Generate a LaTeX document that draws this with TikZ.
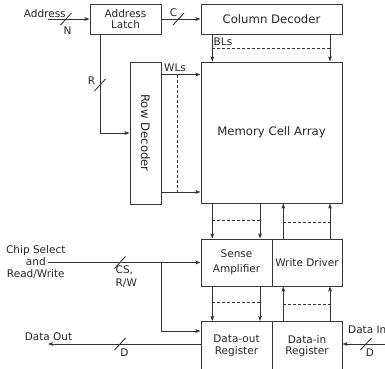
\documentclass[tikz,border=0pt]{standalone}
\usepackage{fontspec}
\usepackage{graphicx}
\setmainfont{DejaVu Sans}
\usetikzlibrary{arrows.meta}

\newcommand{\labfont}{\fontsize{10.5}{11.6}\selectfont}
\newcommand{\headfont}{\fontsize{11.7}{14}\selectfont}
\newcommand{\busslash}[1]{\draw[wire] (#1) ++(-5.5,6) -- ++(11,-12);}

\tikzset{
  blk/.style={draw=black!78, line width=1pt, inner sep=0pt, align=center},
  wire/.style={draw=black!80, line width=0.85pt},
  busdash/.style={draw=black!80, line width=0.8pt, dashed, dash pattern=on 3pt off 2pt},
  lbl/.style={inner sep=0pt, align=center}
}

\begin{document}
\begin{tikzpicture}[x=1pt, y=-1pt, font=\labfont, text=black!85,
  >={Stealth[length=5pt, width=3.6pt, inset=1pt]}]
  \useasboundingbox (0,0) rectangle (385,368);
  \clip (0,0) rectangle (385,368);

  % blocks
  \node[blk, minimum width=71, minimum height=30] (latch) at (125.5,19) {Address\\Latch};
  \node[blk, font=\headfont, minimum width=141, minimum height=30] (coldec) at (271.5,19) {Column Decoder};
  \node[blk, font=\headfont, minimum width=141, minimum height=141] (mca) at (271.5,132.5) {Memory Cell Array};
  \node[blk, font=\headfont, minimum width=31, minimum height=142] (rowdec) at (145.5,133) {\rotatebox{-90}{Row Decoder}};
  \node[blk, minimum width=71, minimum height=47] (sense) at (236.5,262.5) {Sense\\[3.4pt]Amplifier};
  \node[blk, minimum width=70, minimum height=47] (wdrv) at (307,262.5) {Write Driver};
  \node[blk, minimum width=71, minimum height=49] (dout) at (236.5,346) {Data-out\\Register};
  \node[blk, minimum width=70, minimum height=49] (din) at (307,346) {Data-in\\Register};

  % helper coordinates
  \coordinate (addr) at (48,19);
  \coordinate (rtap) at (100,0);
  \coordinate (wl1) at (0,74.5);
  \coordinate (wl2) at (0,192);
  \coordinate (wld) at (177.5,0);
  \coordinate (k1) at (212.3,0);
  \coordinate (k2) at (260,0);
  \coordinate (k3) at (283.3,0);
  \coordinate (k4) at (330,0);
  \coordinate (csin) at (48,262.5);
  \coordinate (cstap) at (161,0);
  \coordinate (dataout) at (48,344);
  \coordinate (datain) at (385,344);

  % address path
  \draw[wire,->] (addr) -- (latch.west);
  \draw[wire,->] (latch.east) -- (coldec.west);
  \draw[wire,->] (rtap |- latch.south) |- (rowdec.west);
  \busslash{66,19}
  \busslash{178.5,19}
  \busslash{100,85}
  \node[lbl] (lbladdr) at (44.8,13.3) {Address};
  \node[lbl] (lbln) at (67.5,31) {N};
  \node[lbl] (lblc) at (173.5,12.5) {C};
  \node[lbl] (lblr) at (91.5,80.5) {R};

  % word lines
  \foreach \w in {wl1,wl2}
    \draw[wire,->] (rowdec.east |- \w) -- (mca.west |- \w);
  \draw[busdash] (wld |- wl1) -- (wld |- wl2);
  \node[lbl] (lblwl) at (175,67.5) {WLs};

  % bit lines
  \foreach \k in {k1,k4}
    \draw[wire,->] (\k |- coldec.south) -- (\k |- mca.north);
  \draw[busdash] (k1 |- 0,48) -- (k4 |- 0,48);
  \node[lbl] (lblbl) at (223,41.5) {BLs};

  % read / write paths
  \foreach \k in {k1,k2} {
    \draw[wire,->] (\k |- mca.south) -- (\k |- sense.north);
    \draw[wire,->] (\k |- sense.south) -- (\k |- dout.north);
  }
  \foreach \k in {k3,k4} {
    \draw[wire,->] (\k |- wdrv.north) -- (\k |- mca.south);
    \draw[wire,->] (\k |- din.north) -- (\k |- wdrv.south);
  }
  \draw[busdash] (k1 |- 0,220) -- (k2 |- 0,220);
  \draw[busdash] (k3 |- 0,222.5) -- (k4 |- 0,222.5);
  \draw[busdash] (k1 |- 0,302.3) -- (k2 |- 0,302.3);
  \draw[busdash] (k3 |- 0,304.5) -- (k4 |- 0,304.5);

  % control
  \draw[wire,->] (csin) -- (sense.west);
  \draw[wire,->] (cstap |- sense.west) |- (dout.west |- 0,331);
  \busslash{120,262.5}
  \node[lbl] (lblchip) at (35.8,262) {Chip Select\\and\\Read/Write};
  \node[lbl, align=left, anchor=north west] (lblcs) at (115.5,265.5) {CS,\\[1.8pt]R/W};

  % data in / out
  \draw[wire,->] (dout.west |- dataout) -- (dataout);
  \draw[wire,->] (datain) -- (din.east |- datain);
  \busslash{120,344}
  \busslash{366,344}
  \node[lbl] (lbldout) at (48.5,336.5) {Data Out};
  \node[lbl] (lbldd) at (124.5,352.5) {D};
  \node[lbl, anchor=west] (lbldin) at (348,329.7) {Data In};
  \node[lbl] (lbldi) at (370,353) {D};
\end{tikzpicture}
\end{document}
